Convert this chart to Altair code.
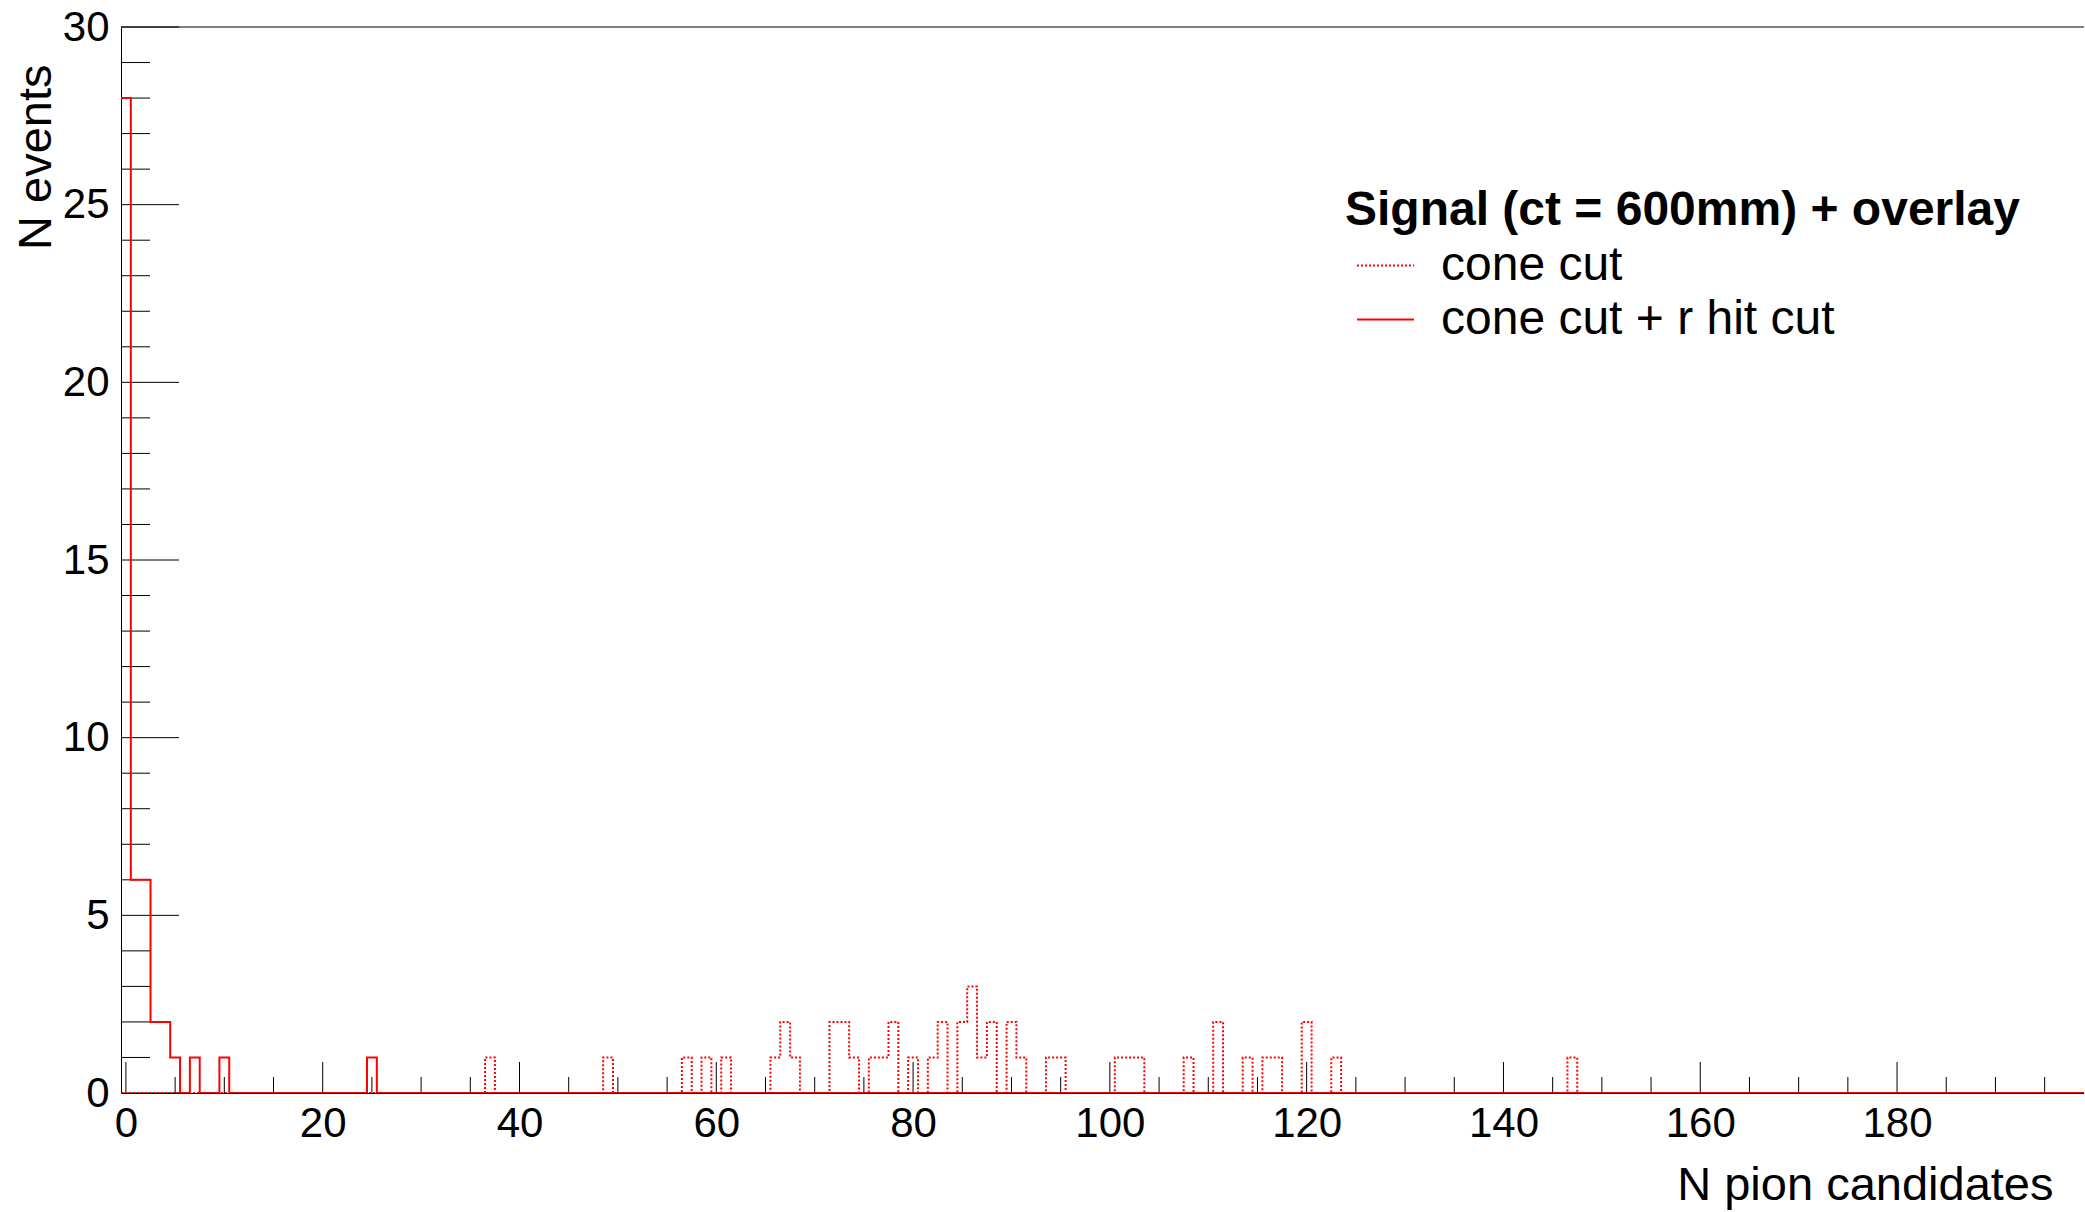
import altair as alt
import pandas as pd

# ---------------- data ----------------
n_bins = 200
bin_low = -0.5          # histogram bins of width 1 centred on integers

series_names = ["cone cut", "cone cut + r hit cut"]

cone_bins = [37, 49, 57, 59, 61, 66, 67, 68, 72, 73, 74, 76, 77, 78, 80, 82, 83,
             85, 86, 87, 88, 90, 91, 94, 95, 101, 102, 103, 108, 111, 114, 116,
             117, 120, 123, 147]
cone_counts = [1, 1, 1, 1, 1, 1, 2, 1, 2, 2, 1, 1, 1, 2, 1, 1, 2,
               2, 3, 1, 2, 2, 1, 1, 1, 1, 1, 1, 1, 2, 1, 1,
               1, 2, 1, 1]

rhit_bins = [0, 1, 2, 3, 4, 5, 7, 10, 25]
rhit_counts = [28, 6, 6, 2, 2, 1, 1, 1, 1]

x_label_values = [0, 20, 40, 60, 80, 100, 120, 140, 160, 180]
x_major_ticks = [0, 20, 40, 60, 80, 100, 120, 140, 160, 180]
x_minor_ticks = [v for v in range(5, 200, 5) if v % 20 != 0]
y_label_values = [0, 5, 10, 15, 20, 25, 30]
y_major_ticks = [0, 5, 10, 15, 20, 25, 30]
y_minor_ticks = [v for v in range(1, 30) if v % 5 != 0]

x_domain = [-0.5, 199.0]
y_domain = [0, 30]

# ---------------- build the step table ----------------
rows = []
for name, bins, counts in [(series_names[0], cone_bins, cone_counts),
                           (series_names[1], rhit_bins, rhit_counts)]:
    full = [0] * n_bins
    for b, c in zip(bins, counts):
        full[b] = c
    for i in range(n_bins):
        rows.append({"series": name, "edge": bin_low + i, "count": full[i]})
    rows.append({"series": name, "edge": bin_low + n_bins, "count": full[-1]})
hist_df = pd.DataFrame(rows)

# ---------------- layout ----------------
W = 1963
H = 1066
FONT = "Liberation Sans"

xscale = alt.Scale(domain=x_domain, nice=False, zero=False)
yscale = alt.Scale(domain=y_domain, nice=False, zero=False)

xaxis = alt.Axis(
    values=x_label_values, ticks=False, tickSize=0, grid=False,
    domain=True, domainColor="black", domainWidth=1,
    labelFont=FONT, labelFontSize=42, labelColor="black", labelPadding=10,
    labelFlush=False, labelOverlap=False,
    title="N pion candidates", titleFont=FONT, titleFontSize=47,
    titleFontWeight="normal", titleColor="black",
    titleAlign="right", titleBaseline="alphabetic",
    titleX=1932, titleY=106,
)
yaxis = alt.Axis(
    values=y_label_values, ticks=False, tickSize=0, grid=False,
    domain=True, domainColor="black", domainWidth=1,
    labelFont=FONT, labelFontSize=42, labelColor="black", labelPadding=12,
    labelFlush=False, labelOverlap=False,
    title="N events", titleFont=FONT, titleFontSize=47,
    titleFontWeight="normal", titleColor="black",
    titleAngle=270, titleAlign="right", titleBaseline="alphabetic",
    titleX=-71, titleY=37,
)

legend = alt.Legend(
    title="Signal (ct = 600mm) + overlay", orient="none",
    legendX=1224, legendY=160, padding=0,
    titleFont=FONT, titleFontSize=48, titleFontWeight="bold",
    titleColor="black", titleLimit=2000, titlePadding=1,
    labelFont=FONT, labelFontSize=48, labelColor="black", labelLimit=2000,
    labelOffset=26, symbolOffset=11, symbolType="stroke", symbolSize=3249,
    symbolStrokeWidth=2, symbolStrokeColor="red", rowPadding=0,
)

hist = alt.Chart(hist_df).mark_line(
    interpolate="step-after", color="red", strokeWidth=2, clip=True
).encode(
    x=alt.X("edge:Q", scale=xscale, axis=xaxis),
    y=alt.Y("count:Q", scale=yscale, axis=yaxis),
    strokeDash=alt.StrokeDash(
        "series:N",
        scale=alt.Scale(domain=series_names, range=[[2, 2], [1, 0]]),
        legend=legend,
    ),
)

xmaj = alt.Chart(pd.DataFrame({"v": x_major_ticks})).mark_rule(
    color="black", strokeWidth=1
).encode(x=alt.X("v:Q", scale=xscale, axis=xaxis),
         y=alt.value(H), y2=alt.value(H - 31))
xmin = alt.Chart(pd.DataFrame({"v": x_minor_ticks})).mark_rule(
    color="black", strokeWidth=1, clip=True
).encode(x=alt.X("v:Q", scale=xscale, axis=xaxis),
         y=alt.value(H), y2=alt.value(H - 16))
ymaj = alt.Chart(pd.DataFrame({"v": y_major_ticks})).mark_rule(
    color="black", strokeWidth=1
).encode(y=alt.Y("v:Q", scale=yscale, axis=yaxis),
         x=alt.value(0), x2=alt.value(58))
ymin = alt.Chart(pd.DataFrame({"v": y_minor_ticks})).mark_rule(
    color="black", strokeWidth=1
).encode(y=alt.Y("v:Q", scale=yscale, axis=yaxis),
         x=alt.value(0), x2=alt.value(29))
top = alt.Chart(pd.DataFrame({"a": [0]})).mark_rule(
    color="black", strokeWidth=1
).encode(x=alt.value(0), x2=alt.value(W), y=alt.value(0))

chart = alt.layer(xmaj, xmin, ymaj, ymin, top, hist).properties(
    width=W, height=H,
    autosize=alt.AutoSizeParams(type="none"),
    padding={"left": 121, "top": 27, "right": 0, "bottom": 117},
    background="white",
).configure_view(stroke=None)

chart.save("out.html", embed_options={"renderer": "svg", "actions": False})
